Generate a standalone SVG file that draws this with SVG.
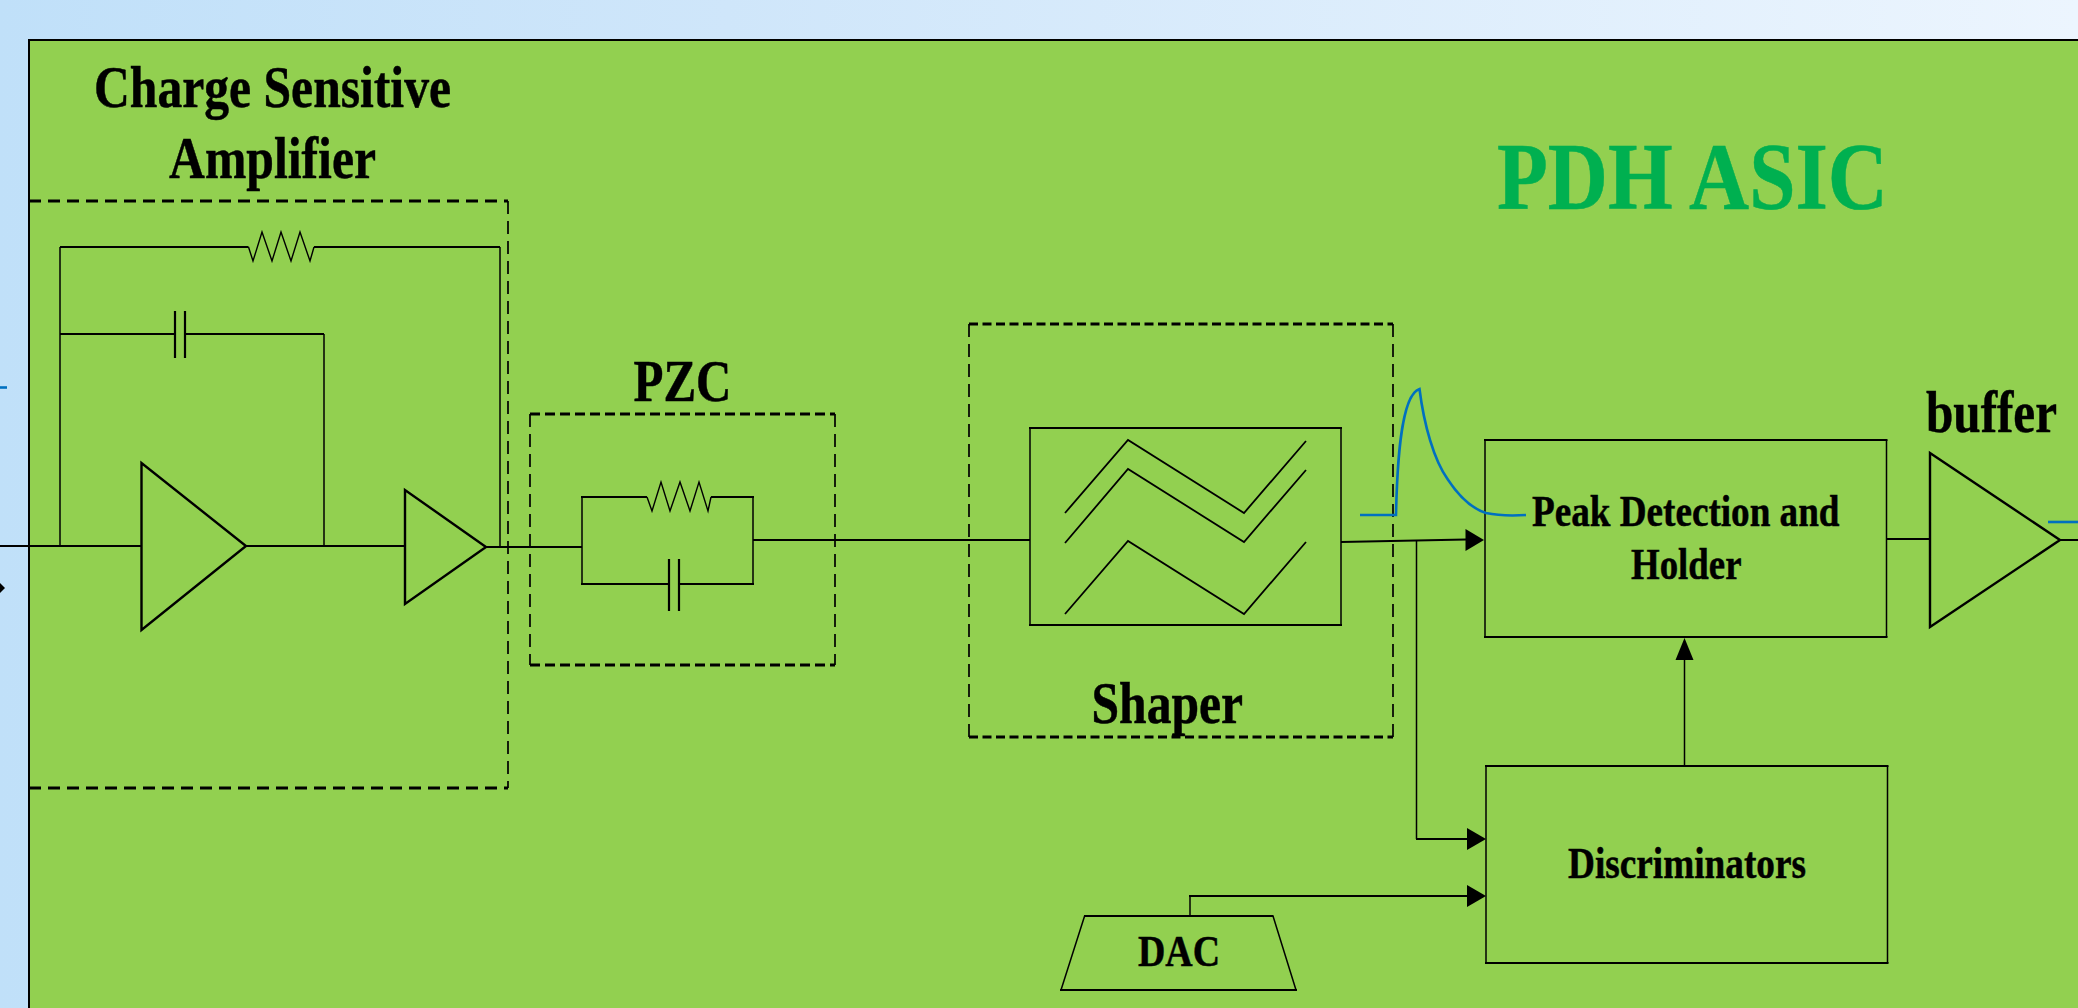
<svg xmlns="http://www.w3.org/2000/svg" width="2078" height="1008" viewBox="0 0 2078 1008">
<style>
.hh{fill:none;stroke:#000;stroke-width:2.2}
.vv{fill:none;stroke:#000;stroke-width:1.5}
.z{fill:none;stroke:#000;stroke-width:1.4}
.c{fill:none;stroke:#000;stroke-width:2.2}
.t{fill:none;stroke:#000;stroke-width:2.4;stroke-linejoin:miter}
.s{fill:none;stroke:#000;stroke-width:1.8}
.dv{fill:none;stroke:#000;stroke-width:1.7;stroke-dasharray:13 7}
.dh{fill:none;stroke:#000;stroke-width:2.8}
.p{fill:none;stroke:#0070c0;stroke-width:2.6}
.h{fill:#000;stroke:none}
text{font-family:"Liberation Serif","Times New Roman",serif;font-weight:bold;fill:#000;stroke:#000;stroke-width:.5;text-anchor:start}
.l{font-size:60px}
.m{font-size:44px}
</style>
<defs>
<linearGradient id="bg" x1="0" y1="0" x2="1" y2="0">
<stop offset="0" stop-color="#c0e0f9"/><stop offset="0.35" stop-color="#cfe6fa"/><stop offset="1" stop-color="#ecf5fe"/>
</linearGradient>
</defs>
<rect id="background" width="2078" height="1008" fill="url(#bg)"/>
<rect id="asic" x="29" y="40" width="2060" height="990" fill="#92d050"/>
<path class="hh" d="M28,40H2078"/>
<path d="M29,40V1008" fill="none" stroke="#000" stroke-width="2"/>
<text id="asic-label" x="1497" y="209" style="font-size:96px;fill:#00b050;stroke:#00b050" textLength="391" lengthAdjust="spacingAndGlyphs">PDH ASIC</text>

<g id="csa">
<path class="dh" stroke-dasharray="12 7" d="M29,201H508M29,788H508"/>
<path class="dv" d="M508,201V788"/>
<text class="l" x="94" y="107" textLength="357" lengthAdjust="spacingAndGlyphs">Charge Sensitive</text>
<text class="l" x="169" y="178" textLength="207" lengthAdjust="spacingAndGlyphs">Amplifier</text>
<polygon class="t" points="141.500,463 141.500,630 246,546"/>
<polygon class="t" points="405,490 405,604 486,547"/>
<path class="z" d="M248.500,247 L253,261 L262,232 L272,261 L281,232 L291,261 L300,232 L310,261 L314,247"/>
<path class="c" d="M175,311V358M185,311V358"/>
</g>

<g id="pzc">
<path class="dh" stroke-dasharray="10 5" d="M530,414H835M530,665H835"/>
<path class="dv" d="M530,414V665M835,414V665"/>
<text class="l" x="633.500" y="401" textLength="98" lengthAdjust="spacingAndGlyphs">PZC</text>
<path class="z" d="M647,497 L652,511 L661,482 L670,511 L680,482 L690,511 L699,482 L708,511 L711,497"/>
<path class="c" d="M669,559V611M679,559V611"/>
</g>

<g id="shaper">
<path class="dh" stroke-dasharray="9 4.500" d="M969,324H1393M969,737H1393"/>
<path class="dv" d="M969,324V737M1393,324V737"/>
<path class="hh" d="M1029,428H1342M1029,625H1342"/>
<path class="vv" d="M1030,428V625M1341,428V625"/>
<path class="s" d="M1065,513L1128,440L1244,513L1306,441M1065,543L1128,469L1244,542L1306,470M1065,614L1128,541L1244,614L1306,542"/>
<text class="l" x="1091.500" y="723" textLength="151.500" lengthAdjust="spacingAndGlyphs">Shaper</text>
</g>

<g id="peak-detection">
<path class="hh" d="M1484,440H1887.500M1484,637H1887.500"/>
<path class="vv" d="M1485,440V637M1886.500,440V637"/>
<text class="m" x="1532" y="526" textLength="307.500" lengthAdjust="spacingAndGlyphs">Peak Detection and</text>
<text class="m" x="1631" y="579" textLength="110.500" lengthAdjust="spacingAndGlyphs">Holder</text>
</g>

<g id="discriminators">
<path class="hh" d="M1485,766H1888.500M1485,963H1888.500"/>
<path class="vv" d="M1486,766V963M1887.500,766V963"/>
<text class="m" x="1568" y="878" textLength="238" lengthAdjust="spacingAndGlyphs">Discriminators</text>
</g>

<g id="dac">
<path class="hh" d="M1084,916H1273.500M1060,990H1297"/>
<path class="vv" d="M1084.600,916L1061,990M1273,916L1296,990"/>
<text class="m" x="1138" y="966" textLength="82" lengthAdjust="spacingAndGlyphs">DAC</text>
</g>

<g id="buffer">
<polygon class="t" points="1930,453 1930,627 2060,540"/>
<text class="l" transform="translate(1926,432) scale(0.819,1)">buffer</text>
</g>

<g id="connectors">
<path class="hh" d="M0,546H141.500M246,546H405M486,547H582"/>
<path class="vv" d="M60,546V247M500,247V547"/>
<path class="hh" d="M60,247H248.500M314,247H500"/>
<path class="vv" d="M324,334V546"/>
<path class="hh" d="M60,334H175M185,334H324"/>
<path class="vv" d="M582,547V497M753,497V584M582,584V547"/>
<path class="hh" d="M581,497H647M711,497H754M754,584H679M669,584H581"/>
<path class="hh" d="M753,540H1030"/>
<path class="hh" d="M1341,542L1466,539.500"/>
<path class="h" d="M1465.500,529L1484,540L1465.500,551Z"/>
<path class="vv" d="M1416.500,541V839"/>
<path class="hh" d="M1416,839H1468"/>
<path class="h" d="M1467,828L1486,839L1467,850Z"/>
<path class="vv" d="M1684.500,766V658"/>
<path class="h" d="M1675.500,660L1684.500,638L1693.500,660Z"/>
<path class="vv" d="M1190,916V896"/>
<path class="hh" d="M1189,896H1468"/>
<path class="h" d="M1467,885L1486,896L1467,907Z"/>
<path class="hh" d="M1887,539H1930M2060,540H2078"/>
<path class="h" d="M0,583L5,588L0,593Z"/>
</g>

<g id="waveforms">
<path class="p" d="M1360,515H1396C1397,470 1400,395 1419.500,389C1424,425 1434,460 1447.500,479C1458,495 1470,508 1486,513C1500,516 1510,516 1526,515"/>
<path class="p" d="M2048,522H2078"/>
<path class="p" d="M0,387.500H7"/>
</g>
</svg>
